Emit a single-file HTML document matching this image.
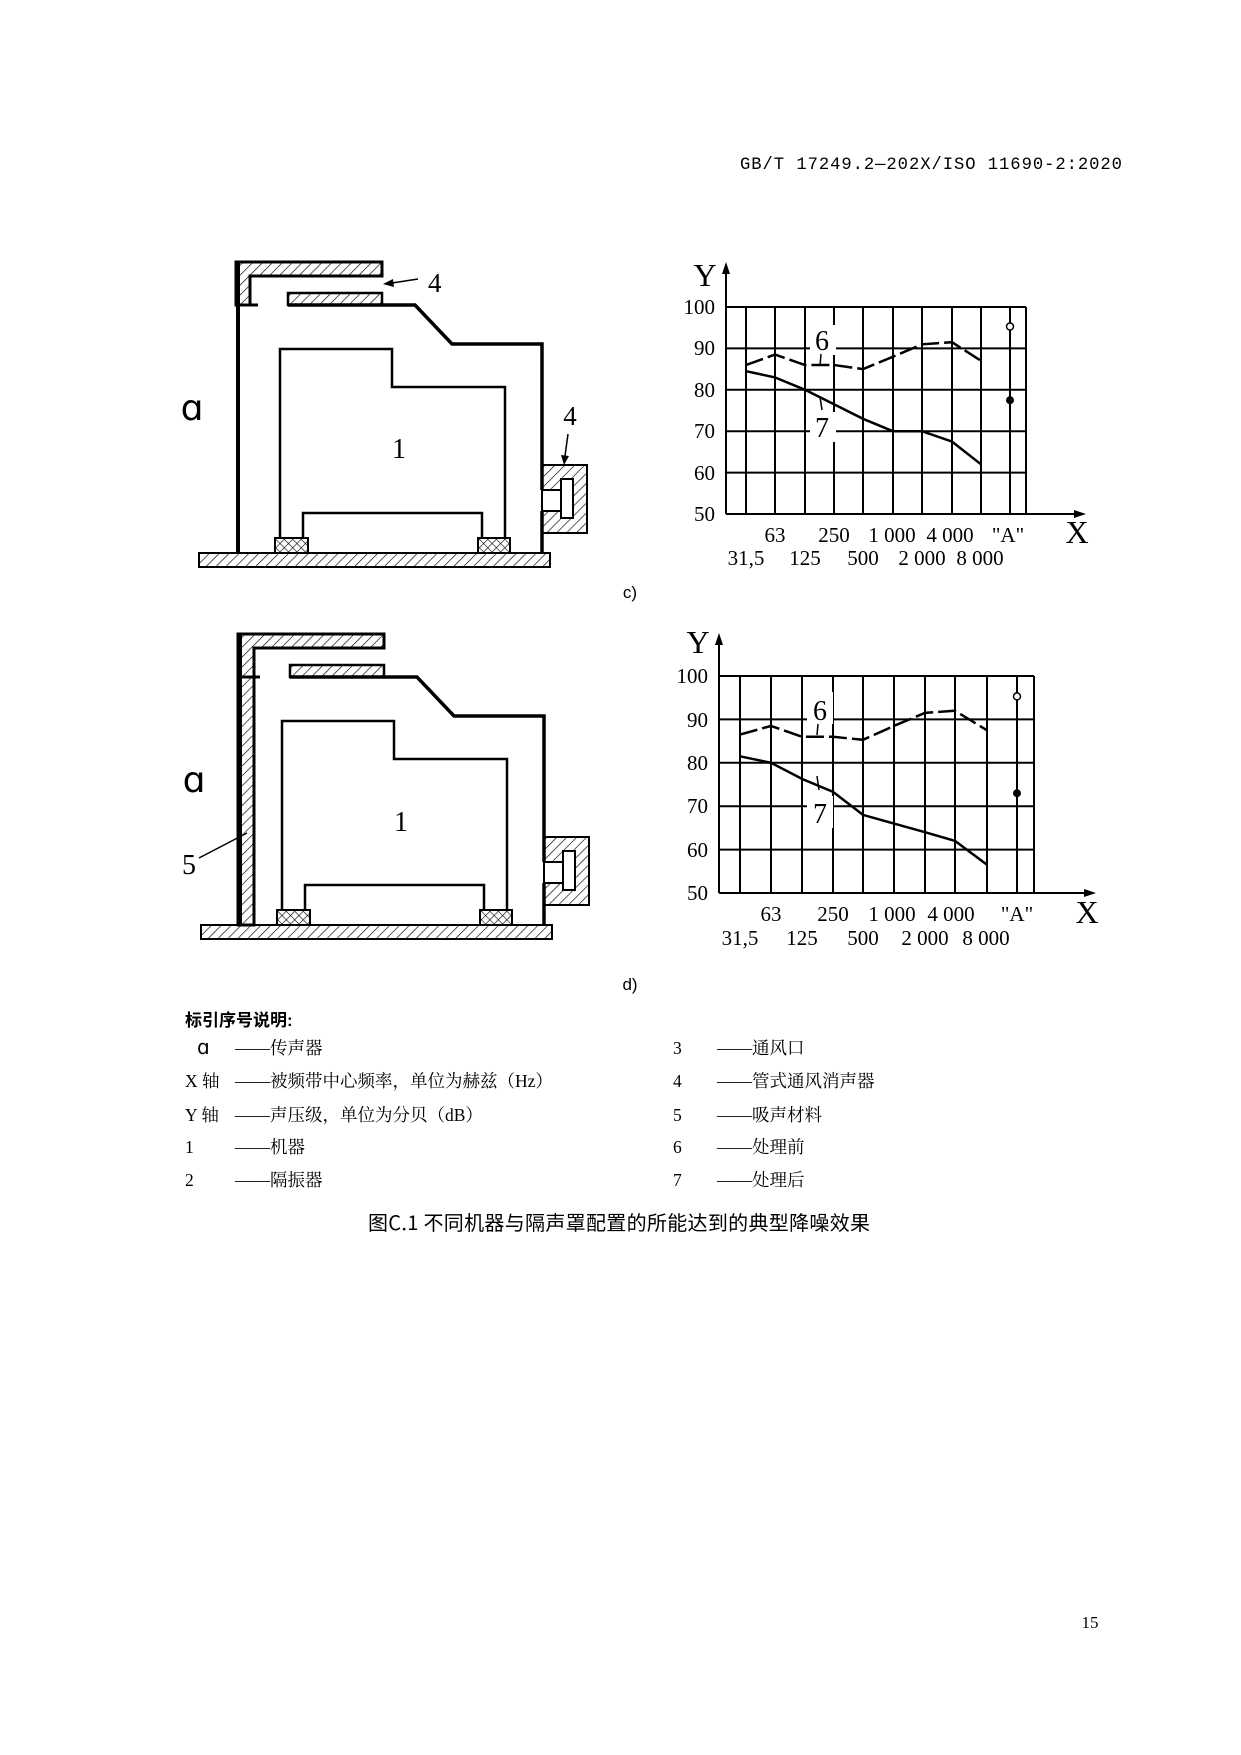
<!DOCTYPE html>
<html><head><meta charset="utf-8"><style>
body{margin:0;background:#fff}
svg{display:block}
.s{font-family:"Liberation Serif","Noto Serif CJK SC",serif}
.n{font-family:"Liberation Serif",serif;font-size:21px}
.c{font-family:"Liberation Serif","Noto Serif CJK SC",serif;font-size:17.5px}
</style></head><body>
<svg width="1241" height="1755" viewBox="0 0 1241 1755" xmlns="http://www.w3.org/2000/svg">
<defs>
<pattern id="h" width="7" height="7" patternUnits="userSpaceOnUse" patternTransform="rotate(45)">
<line x1="0" y1="0" x2="0" y2="7" stroke="#000" stroke-width="1.3"/></pattern>
<pattern id="x" width="6" height="6" patternUnits="userSpaceOnUse" patternTransform="rotate(45)">
<line x1="0" y1="0" x2="0" y2="6" stroke="#000" stroke-width="1.2"/><line x1="0" y1="0" x2="6" y2="0" stroke="#000" stroke-width="1.2"/></pattern>
</defs>
<rect width="1241" height="1755" fill="#fff"/>
<text x="740" y="169" font-family="Liberation Mono,monospace" font-size="17.2" textLength="382">GB/T 17249.2—202X/ISO 11690-2:2020</text>

<!-- machine c -->
<g id="mc" fill="none" stroke="#000">
<path d="M236,262H382V276H250V305H236Z" fill="url(#h)" stroke-width="3"/>
<rect x="288" y="293" width="94" height="12" fill="url(#h)" stroke-width="2.5"/>
<line x1="238" y1="305" x2="258" y2="305" stroke-width="3"/>
<path d="M288,305H415L452,344H542V490M542,511V553" stroke-width="3.5"/>
<path d="M280,538V349H392V387H505V538M303,538V513H482V538" stroke-width="2.5"/>
<rect x="275" y="538" width="33" height="15" fill="url(#x)" stroke-width="2"/>
<rect x="478" y="538" width="32" height="15" fill="url(#x)" stroke-width="2"/>
<rect x="199" y="553" width="351" height="14" fill="url(#h)" stroke-width="2"/>
<rect x="542" y="465" width="45" height="68" fill="url(#h)" stroke-width="2"/>
<rect x="543" y="490" width="19" height="21" fill="#fff" stroke="none"/>
<path d="M543,490H561M543,511H561" stroke-width="2"/>
<rect x="561" y="479" width="12" height="39" fill="#fff" stroke-width="2"/>
</g>
<path d="M238,262V553" stroke="#000" stroke-width="4"/>
<line x1="418" y1="279" x2="392" y2="283" stroke="#000" stroke-width="1.5"/>
<polygon points="383,284 393,279 394,287" fill="#000"/>
<text x="428" y="292" class="s" style="font-size:27px">4</text>
<line x1="568" y1="434" x2="565" y2="456" stroke="#000" stroke-width="1.5"/>
<polygon points="564,465 561,455 569,456" fill="#000"/>
<text x="570" y="425" class="s" style="font-size:27px" text-anchor="middle">4</text>
<text x="399" y="458" class="s" style="font-size:28px" text-anchor="middle">1</text>
<text x="192" y="420" font-family="DejaVu Sans,sans-serif" font-size="36" text-anchor="middle">ɑ</text>
<text x="630" y="598" font-family="Liberation Sans,sans-serif" font-size="17" text-anchor="middle">c)</text>

<!-- machine d -->
<g transform="translate(2,372)" fill="none" stroke="#000">
<path d="M236,262H382V276H252V553H236Z" fill="url(#h)" stroke-width="3"/>
<rect x="288" y="293" width="94" height="12" fill="url(#h)" stroke-width="2.5"/>
<line x1="238" y1="305" x2="258" y2="305" stroke-width="3"/>
<path d="M288,305H415L452,344H542V490M542,511V553" stroke-width="3.5"/>
<path d="M280,538V349H392V387H505V538M303,538V513H482V538" stroke-width="2.5"/>
<rect x="275" y="538" width="33" height="15" fill="url(#x)" stroke-width="2"/>
<rect x="478" y="538" width="32" height="15" fill="url(#x)" stroke-width="2"/>
<rect x="199" y="553" width="351" height="14" fill="url(#h)" stroke-width="2"/>
<rect x="542" y="465" width="45" height="68" fill="url(#h)" stroke-width="2"/>
<rect x="543" y="490" width="19" height="21" fill="#fff" stroke="none"/>
<path d="M543,490H561M543,511H561" stroke-width="2"/>
<rect x="561" y="479" width="12" height="39" fill="#fff" stroke-width="2"/>
<path d="M238,262V553" stroke-width="4"/>
<path d="M252,276V553" stroke-width="2.5"/>
</g>
<line x1="199" y1="858" x2="247" y2="833" stroke="#000" stroke-width="1.5"/>
<text x="189" y="874" class="s" style="font-size:28px" text-anchor="middle">5</text>
<text x="401" y="831" class="s" style="font-size:28px" text-anchor="middle">1</text>
<text x="194" y="792" font-family="DejaVu Sans,sans-serif" font-size="36" text-anchor="middle">ɑ</text>
<text x="630" y="990" font-family="Liberation Sans,sans-serif" font-size="17" text-anchor="middle">d)</text>

<!-- chart c -->
<g stroke="#000" stroke-width="2" fill="none">
<path d="M726,307H1026M726,348.4H1026M726,389.8H1026M726,431.2H1026M726,472.6H1026"/>
<path d="M746,307V514M775,307V514M805,307V514M834,307V514M863,307V514M893,307V514M922,307V514M952,307V514M981,307V514M1010,307V514M1026,307V514"/>
<path d="M726,514H1078M726,514V270"/>
</g>
<polygon points="726,262 722,274 730,274"/><polygon points="1086,514 1074,510 1074,518"/>
<rect x="810" y="325" width="26" height="30" fill="#fff"/><rect x="810" y="412" width="26" height="30" fill="#fff"/>
<polyline points="746,365 775,354.6 805,365 834,365 863,369.1 893,356.7 922,344.3 952,342.2 981,360.8" fill="none" stroke="#000" stroke-width="2.5" stroke-dasharray="18,5"/>
<polyline points="746,371.2 775,377.4 805,389.8 834,404.3 863,418.8 893,431.2 922,431.2 952,441.6 981,464.3" fill="none" stroke="#000" stroke-width="2.5"/>
<path d="M821,354L820,366M820,397L822,410" stroke="#000" stroke-width="1.5"/>
<text x="822" y="350" class="n" style="font-size:28px" text-anchor="middle">6</text>
<text x="822" y="437" class="n" style="font-size:28px" text-anchor="middle">7</text>
<circle cx="1010" cy="326.5" r="3.5" fill="#fff" stroke="#000" stroke-width="1.5"/>
<circle cx="1010" cy="400.2" r="4" fill="#000"/>
<g class="n" text-anchor="end">
<text x="715" y="314">100</text><text x="715" y="355">90</text><text x="715" y="397">80</text><text x="715" y="438">70</text><text x="715" y="480">60</text><text x="715" y="521">50</text></g>
<text x="705" y="286" class="n" style="font-size:32px" text-anchor="middle">Y</text>
<text x="1077" y="543" class="n" style="font-size:32px" text-anchor="middle">X</text>
<g class="n" text-anchor="middle">
<text x="775" y="542">63</text><text x="834" y="542">250</text><text x="892" y="542">1 000</text><text x="950" y="542">4 000</text><text x="1008" y="542">"A"</text>
<text x="746" y="565">31,5</text><text x="805" y="565">125</text><text x="863" y="565">500</text><text x="922" y="565">2 000</text><text x="980" y="565">8 000</text></g>

<!-- chart d -->
<g stroke="#000" stroke-width="2" fill="none">
<path d="M719,676H1034M719,719.4H1034M719,762.8H1034M719,806.2H1034M719,849.6H1034"/>
<path d="M740,676V893M771,676V893M802,676V893M833,676V893M863,676V893M894,676V893M925,676V893M955,676V893M987,676V893M1017,676V893M1034,676V893"/>
<path d="M719,893H1088M719,893V641"/>
</g>
<polygon points="719,633 715,645 723,645"/><polygon points="1096,893 1084,889 1084,897"/>
<rect x="807" y="692" width="26" height="32" fill="#fff"/><rect x="807" y="796" width="26" height="32" fill="#fff"/>
<polyline points="740,734.6 771,725.9 802,736.8 833,736.8 863,739.8 894,725.9 925,712.9 955,710.7 987,730.3" fill="none" stroke="#000" stroke-width="2.5" stroke-dasharray="18,5"/>
<polyline points="740,756.3 771,762.8 802,778.9 833,791.9 863,814.9 894,823.6 925,832.2 955,840.9 987,864.8" fill="none" stroke="#000" stroke-width="2.5"/>
<path d="M818,724L817,735M817,776L819,790" stroke="#000" stroke-width="1.5"/>
<text x="820" y="720" class="n" style="font-size:28px" text-anchor="middle">6</text>
<text x="820" y="823" class="n" style="font-size:28px" text-anchor="middle">7</text>
<circle cx="1017" cy="696.4" r="3.5" fill="#fff" stroke="#000" stroke-width="1.5"/>
<circle cx="1017" cy="793.2" r="4" fill="#000"/>
<g class="n" text-anchor="end">
<text x="708" y="683">100</text><text x="708" y="727">90</text><text x="708" y="770">80</text><text x="708" y="813">70</text><text x="708" y="857">60</text><text x="708" y="900">50</text></g>
<text x="698" y="653" class="n" style="font-size:32px" text-anchor="middle">Y</text>
<text x="1087" y="923" class="n" style="font-size:32px" text-anchor="middle">X</text>
<g class="n" text-anchor="middle">
<text x="771" y="921">63</text><text x="833" y="921">250</text><text x="892" y="921">1 000</text><text x="951" y="921">4 000</text><text x="1017" y="921">"A"</text>
<text x="740" y="945">31,5</text><text x="802" y="945">125</text><text x="863" y="945">500</text><text x="925" y="945">2 000</text><text x="986" y="945">8 000</text></g>

<!-- legend -->
<text x="185" y="1026" font-family="Liberation Sans,'Noto Sans CJK SC',sans-serif" font-size="17" font-weight="bold">标引序号说明:</text>
<g class="c">
<text x="197" y="1054" font-family="DejaVu Sans,sans-serif" style="font-size:20px">ɑ</text><text x="235" y="1054">——传声器</text>
<text x="185" y="1087">X 轴</text><text x="235" y="1087">——被频带中心频率，单位为赫兹（Hz）</text>
<text x="185" y="1121">Y 轴</text><text x="235" y="1121">——声压级，单位为分贝（dB）</text>
<text x="185" y="1153">1</text><text x="235" y="1153">——机器</text>
<text x="185" y="1186">2</text><text x="235" y="1186">——隔振器</text>
<text x="673" y="1054">3</text><text x="717" y="1054">——通风口</text>
<text x="673" y="1087">4</text><text x="717" y="1087">——管式通风消声器</text>
<text x="673" y="1121">5</text><text x="717" y="1121">——吸声材料</text>
<text x="673" y="1153">6</text><text x="717" y="1153">——处理前</text>
<text x="673" y="1186">7</text><text x="717" y="1186">——处理后</text>
</g>
<text x="619" y="1230" font-family="'Noto Sans CJK SC',sans-serif" font-size="20" text-anchor="middle" textLength="502">图C.1 不同机器与隔声罩配置的所能达到的典型降噪效果</text>
<text x="1090" y="1628" font-family="Liberation Serif,serif" font-size="17" text-anchor="middle">15</text>
</svg>
</body></html>
